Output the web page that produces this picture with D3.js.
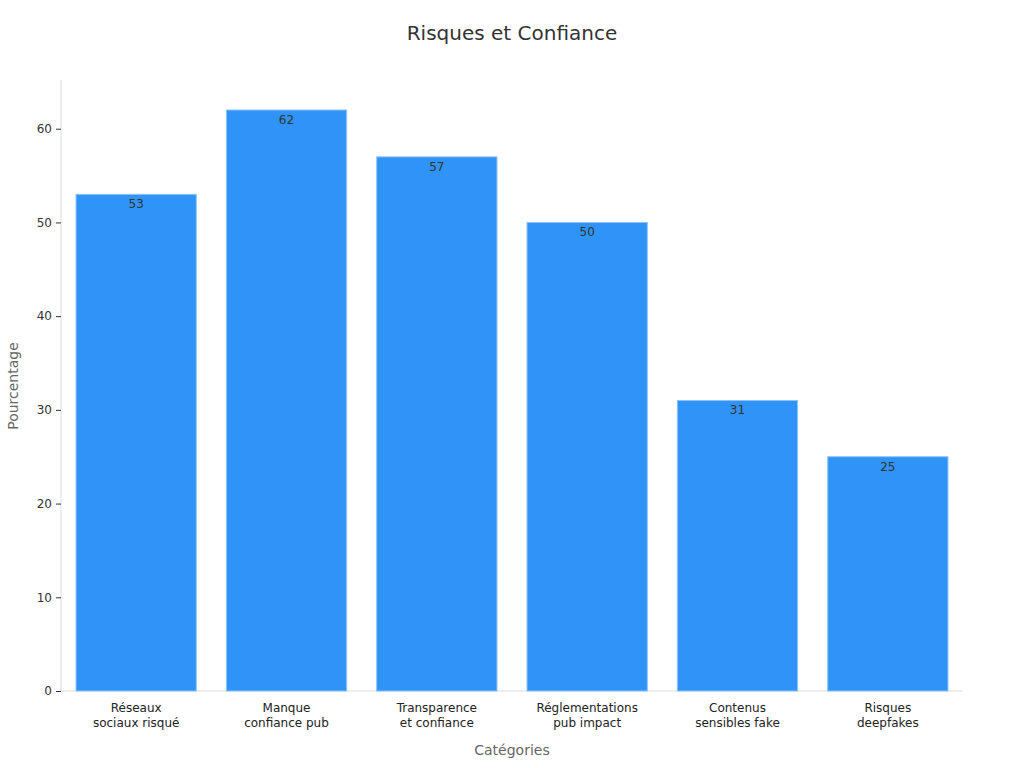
<!DOCTYPE html>
<html><head><meta charset="utf-8">
<script src="https://cdn.jsdelivr.net/npm/d3@7"></script>
<style>body{margin:0;background:#fff;font-family:"DejaVu Sans",sans-serif;}</style>
</head><body><svg id="c" width="1024" height="768"></svg>
<script>
const categories = [["Réseaux","sociaux risqué"],["Manque","confiance pub"],["Transparence","et confiance"],["Réglementations","pub impact"],["Contenus","sensibles fake"],["Risques","deepfakes"]];
const values = [53,62,57,50,31,25];
const yTicks = [0,10,20,30,40,50,60];

const svg = d3.select("#c");
const L=61,R=963,T=80,B=691;
const x = d3.scaleBand().domain(d3.range(categories.length)).range([L,R]).paddingInner(0.2).paddingOuter(0.1);
const y = d3.scaleLinear().domain([0,65.2]).range([B,T]);

svg.append("text").attr("x",512).attr("y",40).attr("text-anchor","middle").attr("font-size",20).attr("fill","#333").text("Risques et Confiance");

const ya = svg.append("g").attr("transform",`translate(${L},0)`).call(d3.axisLeft(y).tickValues(yTicks).tickSize(5).tickPadding(4));
ya.selectAll("text").attr("font-size",12).attr("fill","#333").attr("font-family","DejaVu Sans");
ya.selectAll("line").attr("stroke","#333");
ya.select(".domain").attr("stroke","#ddd").attr("d",`M0,${T}V${B}`);

svg.append("line").attr("x1",L).attr("x2",R).attr("y1",B).attr("y2",B).attr("stroke","#ddd");

svg.selectAll("rect.bar").data(values).join("rect").attr("class","bar")
 .attr("x",(d,i)=>x(i)).attr("width",x.bandwidth()).attr("y",d=>y(d)).attr("height",d=>B-y(d))
 .attr("fill","#2f93f7").attr("stroke","#8cc4f9").attr("stroke-width",1);

svg.selectAll("text.val").data(values).join("text").attr("class","val")
 .attr("x",(d,i)=>x(i)+x.bandwidth()/2).attr("y",d=>y(d)+14).attr("text-anchor","middle")
 .attr("font-size",12).attr("fill","#333").text(d=>d);

categories.forEach((c,i)=>{
  const t = svg.append("text").attr("x",x(i)+x.bandwidth()/2).attr("y",712).attr("text-anchor","middle").attr("font-size",12).attr("fill","#222");
  c.forEach((s,j)=>t.append("tspan").attr("x",x(i)+x.bandwidth()/2).attr("dy",j?15:0).text(s));
});

svg.append("text").attr("x",512).attr("y",755).attr("text-anchor","middle").attr("font-size",14).attr("fill","#666").text("Catégories");
svg.append("text").attr("transform","translate(18,386) rotate(-90)").attr("text-anchor","middle").attr("font-size",14).attr("fill","#666").text("Pourcentage");
</script></body></html>
